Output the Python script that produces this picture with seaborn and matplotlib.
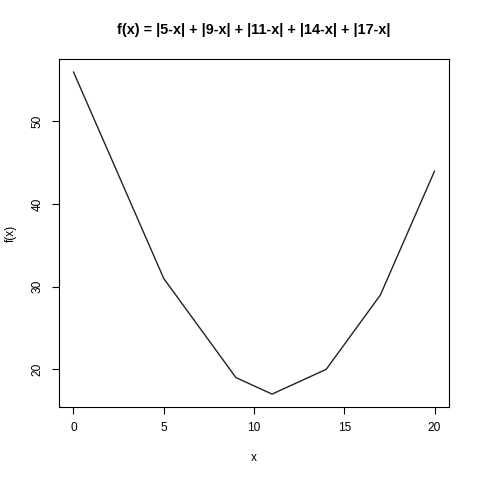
import matplotlib
matplotlib.use("Agg")
import matplotlib.pyplot as plt
import seaborn as sns
import pandas as pd

x_vals = [0, 5, 9, 11, 14, 17, 20]
y_vals = [56, 31, 19, 17, 20, 29, 44]
x_ticks = [0, 5, 10, 15, 20]
y_ticks = [20, 30, 40, 50]
title = "f(x) = |5-x| + |9-x| + |11-x| + |14-x| + |17-x|"

sns.set_style("white")
plt.rcParams['font.family'] = ['Liberation Sans', 'DejaVu Sans']
plt.rcParams['text.color'] = 'black'
plt.rcParams['axes.labelcolor'] = 'black'
plt.rcParams['xtick.color'] = 'black'
plt.rcParams['ytick.color'] = 'black'

df = pd.DataFrame({"x": x_vals, "y": y_vals})
fig = plt.figure(figsize=(4.8, 4.8), dpi=100)
ax = fig.add_axes([59/480, 1-407/480, 390/480, 348/480])
sns.lineplot(data=df, x="x", y="y", ax=ax, color="#222222", linewidth=1.0)

ax.set_xlim(-0.8, 20.8)
ax.set_ylim(15.44, 57.56)
ax.set_xticks(x_ticks)
ax.set_yticks(y_ticks)
ax.set_xticklabels([str(t) for t in x_ticks], fontsize=8.6)
ax.set_yticklabels([str(t) for t in y_ticks], fontsize=8.6, rotation=90, va="center")
ax.tick_params(direction="out", length=5, width=0.8, color="black", pad=6, bottom=True, left=True)
for s in ax.spines.values():
    s.set_color("black")
    s.set_linewidth(0.8)
ax.set_xlabel("x", fontsize=8.6, labelpad=13)
ax.set_ylabel("f(x)", fontsize=8.6, labelpad=11)
fig.text(254/480, 1-30/480, title, ha="center", va="center", fontsize=10.4, fontweight="bold")
fig.savefig("out.png", dpi=100, facecolor="white")
